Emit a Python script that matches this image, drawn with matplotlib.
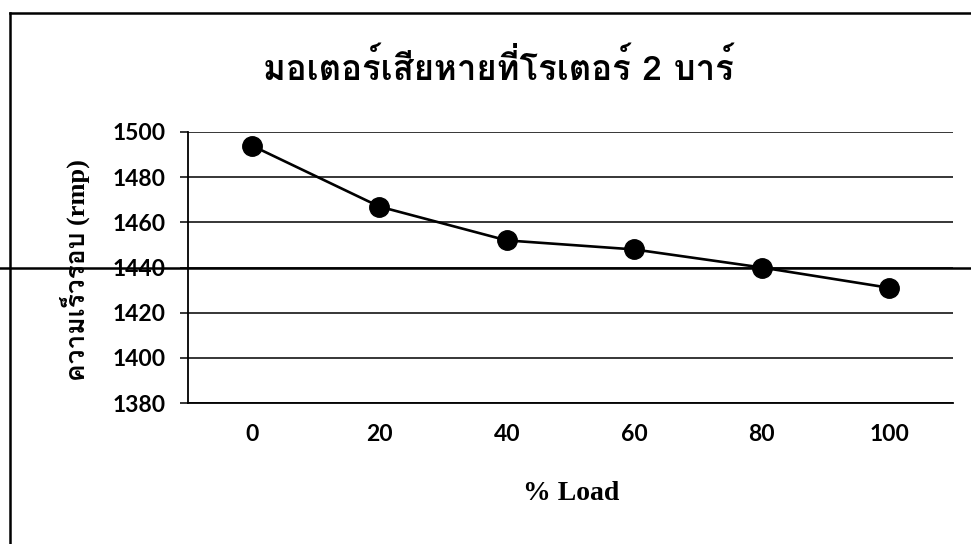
import matplotlib
matplotlib.use("Agg")
import matplotlib.pyplot as plt
from matplotlib import font_manager
from matplotlib.ft2font import FT2Font
from matplotlib.lines import Line2D
import matplotlib.transforms as mtransforms

# speed vs load, rotor with 2 broken bars
load_labels = ["0", "20", "40", "60", "80", "100"]
speed_rpm = [1494, 1467, 1452, 1448, 1440, 1431]
y_ticks = [1380, 1400, 1420, 1440, 1460, 1480, 1500]

title_text = "มอเตอร์เสียหายที่โรเตอร์ 2 บาร์"
ylabel_text = "ความเร็วรอบ (rmp)"
xlabel_text = "% Load"


def find_thai_font():
    # first installed font that has Thai glyphs, if any
    for f in font_manager.fontManager.ttflist:
        try:
            cmap = FT2Font(f.fname).get_charmap()
        except Exception:
            continue
        if 0x0E21 in cmap and 0x0E40 in cmap:
            return f.name
    return None


thai = find_thai_font()
serif_fam = ["Liberation Serif", "DejaVu Serif"]
if thai:
    serif_fam = ["Liberation Serif", thai, "DejaVu Serif"]
    thai_first = [thai, "Liberation Serif", "DejaVu Serif"]
else:
    thai_first = serif_fam

fig = plt.figure(figsize=(9.71, 5.44), dpi=100)
ax = fig.add_axes([188 / 971, 1 - 403 / 544, (953 - 188) / 971, (403 - 132) / 544])

x = list(range(len(load_labels)))
ax.plot(x, speed_rpm, color="black", lw=1.9, marker="o", markersize=14,
        markerfacecolor="black", markeredgecolor="black", zorder=3)

ax.set_xlim(-0.5, len(load_labels) - 0.5)
ax.set_ylim(1380, 1500)
ax.set_yticks(y_ticks)
ax.set_xticks(x)
ax.set_xticklabels(load_labels)
ax.grid(axis="y", color="black", lw=1.1)
ax.set_axisbelow(True)

for side in ["top", "right"]:
    ax.spines[side].set_visible(False)
ax.spines["left"].set_linewidth(1.3)
ax.spines["bottom"].set_linewidth(1.3)

ax.tick_params(axis="y", direction="out", length=6, width=1.1, pad=10)
ax.tick_params(axis="x", length=0, pad=15)
for lbl in ax.get_xticklabels() + ax.get_yticklabels():
    lbl.set_fontfamily(["Lato", "DejaVu Sans"])
    lbl.set_fontsize(16.5)
    lbl.set_fontweight("bold")

fig.text(498 / 971, 1 - 67 / 544, title_text, ha="center", va="center",
         fontsize=25, fontweight="bold", family=thai_first)
fig.text(75 / 971, 1 - 270 / 544, ylabel_text, ha="center", va="center",
         rotation=90, fontsize=19, fontweight="bold", family=serif_fam)
fig.text(571 / 971, 1 - 494 / 544, xlabel_text, ha="center", va="center",
         fontsize=20, fontweight="bold", family=serif_fam)

# frame of the chart box and the line running across the page
fig.add_artist(Line2D([10 / 971, 10 / 971], [0, 1 - 13 / 544], color="black",
                      lw=1.8, transform=fig.transFigure))
fig.add_artist(Line2D([10 / 971, 1], [1 - 13 / 544, 1 - 13 / 544], color="black",
                      lw=1.8, transform=fig.transFigure))
trans = mtransforms.blended_transform_factory(fig.transFigure, ax.transData)
ax.add_line(Line2D([0, 1], [1440, 1440], color="black", lw=1.8,
                   transform=trans, clip_on=False, zorder=2))

fig.savefig("out.png", dpi=100)
